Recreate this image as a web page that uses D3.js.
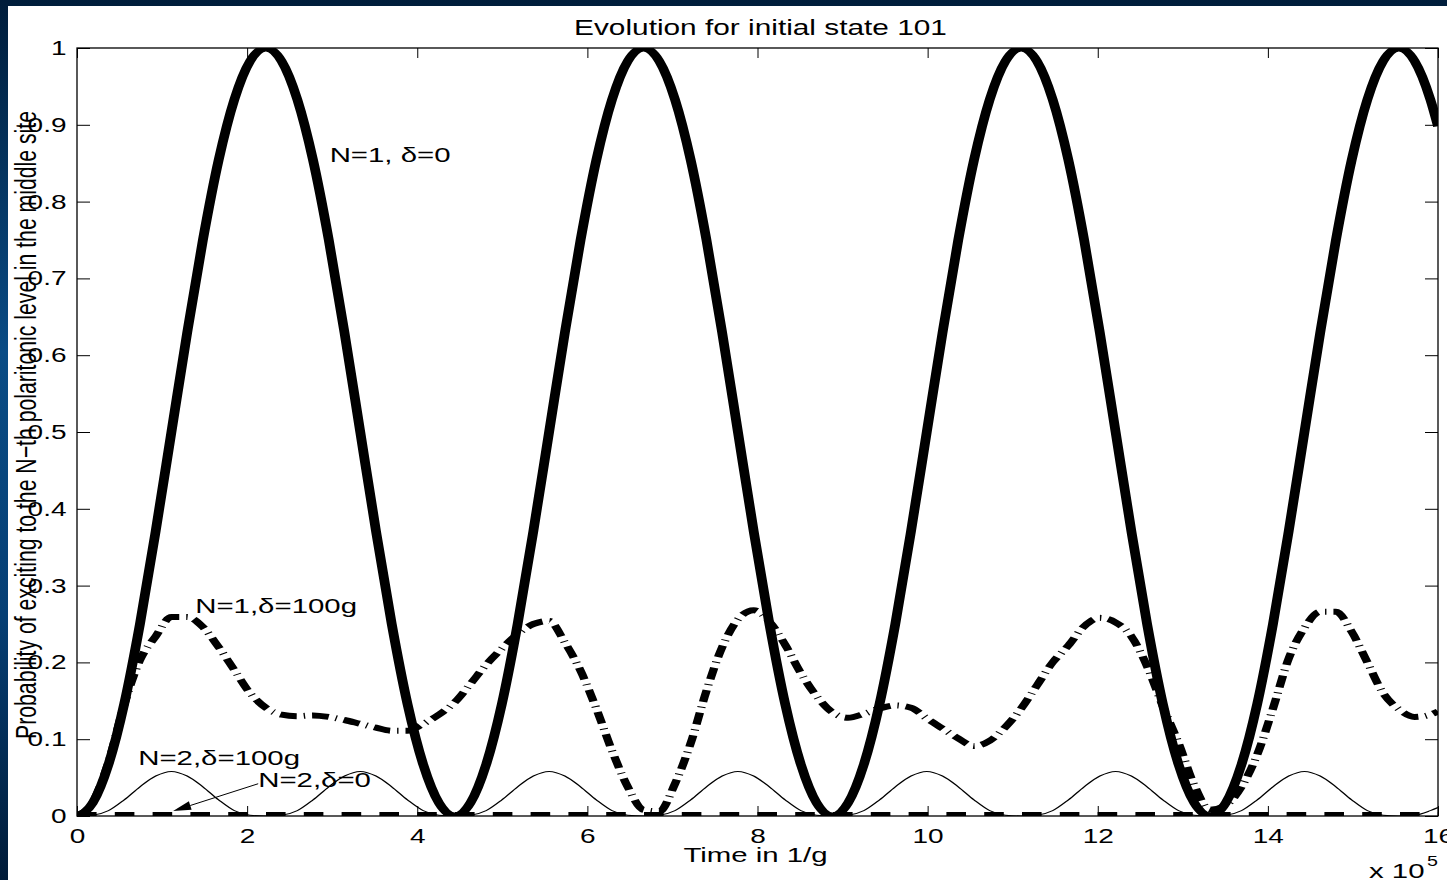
<!DOCTYPE html>
<html>
<head>
<meta charset="utf-8">
<script src="https://cdn.jsdelivr.net/npm/d3@7"></script>
<style>
html, body { margin: 0; padding: 0; background: #00203f; }
svg { display: block; }
text { font-family: "Liberation Sans", Arial, Helvetica, sans-serif; fill: #000; }
</style>
</head>
<body>
<svg id="chart" width="1447" height="880"></svg>
<script>
// time axis, units of 10^5 / g
const timeGrid = [0, 0.185, 0.37, 0.555, 0.74, 0.925, 1.11, 1.295, 1.48, 1.665, 1.85, 2.035,
  2.22, 2.405, 2.59, 2.775, 2.96, 3.145, 3.33, 3.515, 3.7, 3.885, 4.07, 4.255,
  4.44, 4.625, 4.81, 4.995, 5.18, 5.365, 5.55, 5.735, 5.92, 6.105, 6.29, 6.475,
  6.66, 6.845, 7.03, 7.215, 7.4, 7.585, 7.77, 7.955, 8.14, 8.325, 8.51, 8.695,
  8.88, 9.065, 9.25, 9.435, 9.62, 9.805, 9.99, 10.175, 10.36, 10.545, 10.73, 10.915,
  11.1, 11.285, 11.47, 11.655, 11.84, 12.025, 12.21, 12.395, 12.58, 12.765, 12.95, 13.135,
  13.32, 13.505, 13.69, 13.875, 14.06, 14.245, 14.43, 14.615, 14.8, 14.985, 15.17, 15.355,
  15.54, 15.725, 15.91, 16];

// N=1, delta=0 (thick solid)
const probN1d0 = [0, 0.017, 0.067, 0.146, 0.25, 0.371, 0.5, 0.629, 0.75, 0.854, 0.933, 0.983,
  1, 0.983, 0.933, 0.854, 0.75, 0.629, 0.5, 0.371, 0.25, 0.146, 0.067, 0.017,
  0, 0.017, 0.067, 0.146, 0.25, 0.371, 0.5, 0.629, 0.75, 0.854, 0.933, 0.983,
  1, 0.983, 0.933, 0.854, 0.75, 0.629, 0.5, 0.371, 0.25, 0.146, 0.067, 0.017,
  0, 0.017, 0.067, 0.146, 0.25, 0.371, 0.5, 0.629, 0.75, 0.854, 0.933, 0.983,
  1, 0.983, 0.933, 0.854, 0.75, 0.629, 0.5, 0.371, 0.25, 0.146, 0.067, 0.017,
  0, 0.017, 0.067, 0.146, 0.25, 0.371, 0.5, 0.629, 0.75, 0.854, 0.933, 0.983,
  1, 0.983, 0.933, 0.898];

// N=1, delta=100g (thick dash-dot)
const probN1d100 = [0, 0.018, 0.07, 0.145, 0.203, 0.234, 0.259, 0.259, 0.246, 0.22, 0.19, 0.16,
  0.141, 0.132, 0.13, 0.131, 0.129, 0.125, 0.12, 0.115, 0.111, 0.111, 0.12, 0.132,
  0.148, 0.172, 0.197, 0.218, 0.237, 0.25, 0.254, 0.226, 0.189, 0.14, 0.085, 0.038,
  0.008, 0.006, 0.042, 0.095, 0.163, 0.22, 0.256, 0.268, 0.253, 0.223, 0.186, 0.156,
  0.135, 0.128, 0.133, 0.14, 0.144, 0.141, 0.127, 0.114, 0.101, 0.091, 0.098, 0.116,
  0.14, 0.17, 0.2, 0.222, 0.247, 0.258, 0.252, 0.234, 0.195, 0.143, 0.095, 0.04,
  0.008, 0.014, 0.038, 0.08, 0.14, 0.205, 0.245, 0.266, 0.266, 0.24, 0.2, 0.16,
  0.139, 0.129, 0.132, 0.136];

// N=2, delta=100g (thin solid)
const probN2d100 = [0, 0.001, 0.007, 0.021, 0.038, 0.052, 0.058, 0.052, 0.038, 0.021, 0.007, 0.001,
  0, 0.001, 0.007, 0.021, 0.038, 0.052, 0.058, 0.052, 0.038, 0.021, 0.007, 0.001,
  0, 0.001, 0.007, 0.021, 0.038, 0.052, 0.058, 0.052, 0.038, 0.021, 0.007, 0.001,
  0, 0.001, 0.007, 0.021, 0.038, 0.052, 0.058, 0.052, 0.038, 0.021, 0.007, 0.001,
  0, 0.001, 0.007, 0.021, 0.038, 0.052, 0.058, 0.052, 0.038, 0.021, 0.007, 0.001,
  0, 0.001, 0.007, 0.021, 0.038, 0.052, 0.058, 0.052, 0.038, 0.021, 0.007, 0.001,
  0, 0.001, 0.007, 0.021, 0.038, 0.052, 0.058, 0.052, 0.038, 0.021, 0.007, 0.001,
  0, 0.001, 0.007, 0.011];

// N=2, delta=0 (thick dashed, stays at zero)
const zeroTimes = [0, 16];
const probN2d0 = [0, 0];

const xTicks = [0, 2, 4, 6, 8, 10, 12, 14, 16];
const yTicks = [0, 0.1, 0.2, 0.3, 0.4, 0.5, 0.6, 0.7, 0.8, 0.9, 1];

const annoText = ["N=1, \u03b4=0", "N=1,\u03b4=100g", "N=2,\u03b4=100g", "N=2,\u03b4=0"];
const annoT = [2.97, 1.39, 0.72, 2.13];
const annoV = [0.852, 0.264, 0.066, 0.038];
const arrowFrom = [2.13, 0.042];
const arrowTo = [1.13, 0.0065];

const W = 1447, H = 880;
let margin = {top: 48, right: 9, bottom: 64, left: 77};
const x0 = margin.left, x1 = W - margin.right, y0 = margin.top, y1 = H - margin.bottom;
const stretch = 1.4; // the source figure was stretched sideways

const svg = d3.select("#chart");
const defs = svg.append("defs");

const grad = defs.append("linearGradient").attr("id", "frame")
  .attr("x1", 0).attr("y1", 0).attr("x2", 0).attr("y2", 1);
[[0, "#001d3b"], [0.4, "#0a4c85"], [0.7, "#063f74"], [1, "#001b38"]].forEach(function (s) {
  grad.append("stop").attr("offset", s[0]).attr("stop-color", s[1]);
});

svg.append("rect").attr("width", W).attr("height", H).attr("fill", "url(#frame)");
svg.append("rect").attr("x", 8).attr("y", 6).attr("width", W - 8).attr("height", H - 6).attr("fill", "#fff");

defs.append("clipPath").attr("id", "plotClip").append("rect")
  .attr("x", x0).attr("y", y0).attr("width", x1 - x0).attr("height", y1 - y0);

let x = d3.scaleLinear().domain([0, 16]).range([x0, x1]);
let xs = d3.scaleLinear().domain([0, 16]).range([0, (x1 - x0) / stretch]);
let y = d3.scaleLinear().domain([0, 1]).range([y1, y0]);

// lines are drawn in a sideways-stretched frame so strokes look like the original
let plot = svg.append("g").attr("clip-path", "url(#plotClip)")
  .append("g").attr("transform", `translate(${x0},0) scale(${stretch},1)`);

function drawSeries(ts, vs, width, dash) {
  let line = d3.line()
    .x(function (d, i) { return xs(ts[i]); })
    .y(function (d) { return y(d); })
    .curve(d3.curveMonotoneX);
  plot.append("path")
    .datum(vs)
    .attr("d", line)
    .attr("fill", "none")
    .attr("stroke", "#000")
    .attr("stroke-width", width)
    .attr("stroke-linejoin", "round")
    .attr("stroke-dasharray", dash);
}

drawSeries(timeGrid, probN1d0, 7, null);
drawSeries(timeGrid, probN2d100, 1.1, null);
drawSeries(timeGrid, probN1d100, 6, "12 5 1 5");
drawSeries(zeroTimes, probN2d0, 8, "14 13");

// axes
function styleAxis(g) {
  g.select(".domain").remove();
  g.selectAll(".tick line").attr("stroke", "#000").attr("stroke-width", 1);
  g.attr("font-size", 20).attr("font-family", "Liberation Sans, Arial, sans-serif");
}

svg.append("g").attr("transform", `translate(0,${y1})`)
  .call(d3.axisBottom(x).tickValues(xTicks).tickSize(-10).tickPadding(13).tickFormat(d3.format("d")))
  .call(styleAxis)
  .selectAll("text").attr("transform", `scale(${stretch},1)`);

svg.append("g").attr("transform", `translate(${x0},0)`)
  .call(d3.axisLeft(y).tickValues(yTicks).tickSize(-13).tickPadding(7.5)
    .tickFormat(function (d) { return String(+d.toFixed(1)); }))
  .call(styleAxis)
  .selectAll("text").attr("transform", `scale(${stretch},1)`);

svg.append("g").attr("transform", `translate(0,${y0})`)
  .call(d3.axisTop(x).tickValues(xTicks).tickSize(-10).tickFormat(""))
  .call(styleAxis);

svg.append("g").attr("transform", `translate(${x1},0)`)
  .call(d3.axisRight(y).tickValues(yTicks).tickSize(-13).tickFormat(""))
  .call(styleAxis);

svg.append("rect")
  .attr("x", x0).attr("y", y0).attr("width", x1 - x0).attr("height", y1 - y0)
  .attr("fill", "none").attr("stroke", "#000").attr("stroke-width", 1.3);

// texts
function label(txt, px, py, size, anchor) {
  return svg.append("text")
    .attr("transform", `translate(${px},${py}) scale(${stretch},1)`)
    .attr("font-size", size)
    .attr("text-anchor", anchor)
    .text(txt);
}

label("Evolution for initial state 101", (x0 + x1) / 2 + 3, 35, 21.3, "middle");
label("Time in 1/g", (x0 + x1) / 2 - 2, 862, 21, "middle");
label("x 10", 1369, 878, 21, "start");
label("5", 1427, 866, 14, "start");

svg.append("text")
  .attr("transform", `translate(36,425) rotate(-90) scale(1,${stretch})`)
  .attr("font-size", 21)
  .attr("text-anchor", "middle")
  .attr("textLength", 628)
  .attr("lengthAdjust", "spacingAndGlyphs")
  .text("Probability of exciting to the N\u2212th polaritonic level in the middle site");

annoText.forEach(function (t, i) {
  label(t, x(annoT[i]), y(annoV[i]), 21, "start");
});

// arrow pointing at the N=2, delta=0 line
let ax0 = x(arrowFrom[0]), ay0 = y(arrowFrom[1]);
let ax1 = x(arrowTo[0]), ay1 = y(arrowTo[1]);
let len = Math.hypot(ax1 - ax0, ay1 - ay0);
let ux = (ax1 - ax0) / len, uy = (ay1 - ay0) / len;
let headLen = 18, headW = 4.5;
let bx = ax1 - ux * headLen, by = ay1 - uy * headLen;

svg.append("line")
  .attr("x1", ax0).attr("y1", ay0).attr("x2", bx).attr("y2", by)
  .attr("stroke", "#000").attr("stroke-width", 1);

svg.append("path")
  .attr("d", `M${ax1},${ay1} L${bx - uy * headW},${by + ux * headW} L${bx + uy * headW},${by - ux * headW} Z`)
  .attr("fill", "#000");
</script>
</body>
</html>
